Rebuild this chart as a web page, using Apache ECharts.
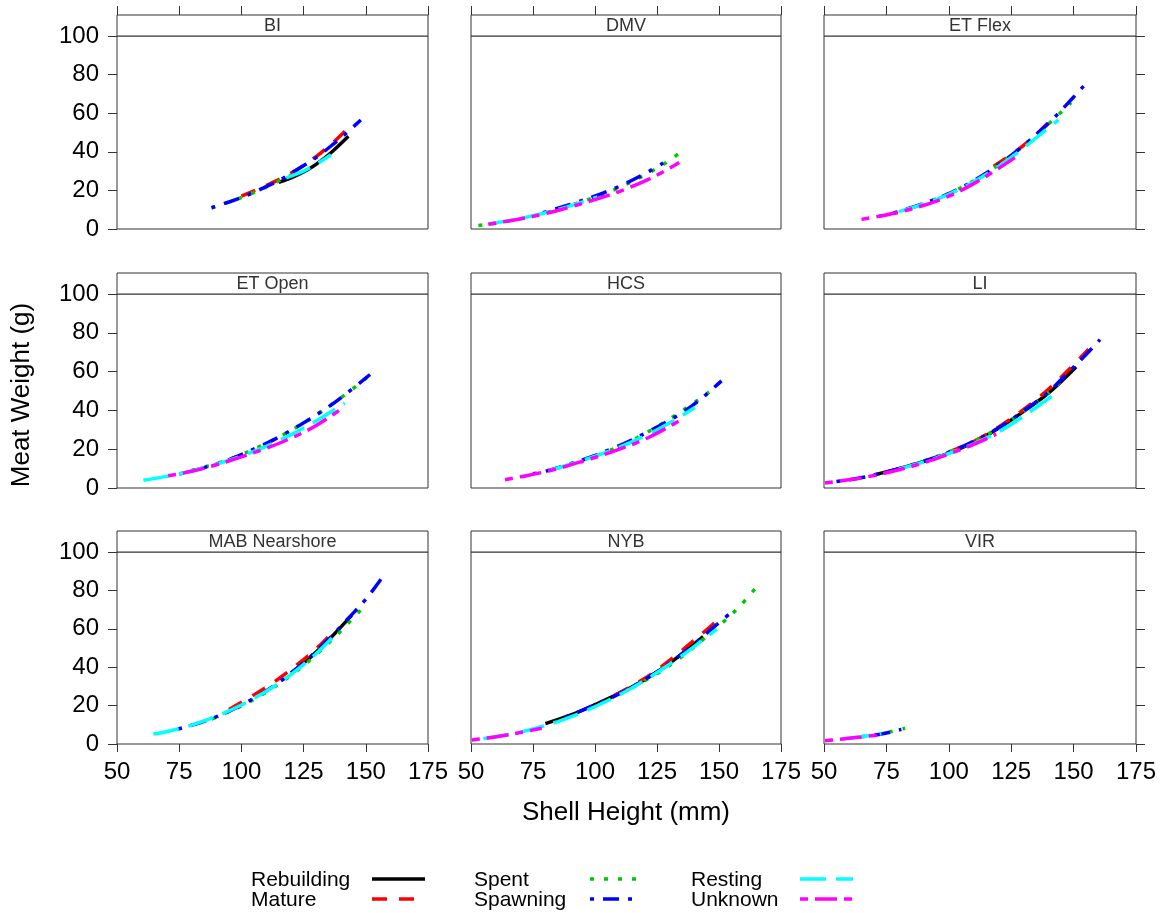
<!DOCTYPE html>
<html><head><meta charset="utf-8">
<script src="https://cdn.jsdelivr.net/npm/echarts/dist/echarts.min.js"></script>
<style>html,body{margin:0;padding:0;background:#fff}#c{width:1164px;height:913px}</style>
</head><body><div id="c"></div>
<script>
// ---------- data ----------
const stages = ['Rebuilding', 'Mature', 'Spent', 'Spawning', 'Resting', 'Unknown'];
const panelNames = ['BI', 'DMV', 'ET Flex', 'ET Open', 'HCS', 'LI', 'MAB Nearshore', 'NYB', 'VIR'];
const xTicks = [50, 75, 100, 125, 150, 175];
const yTicks = [0, 20, 40, 60, 80, 100];

// BI
const BI_Rebuilding = [[115,24.2],[120,26.5],[125,29.5],[130,33.5],[136,39.5],[143,48]];
const BI_Mature = [[100,17],[110,22.5],[120,29],[130,37.5],[137,45],[143,52.5]];
const BI_Spent = [[88,11],[95,14],[102,17.3],[110,21.8],[120,28]];
const BI_Spawning = [[88,11],[95,14],[102,17.3],[108,20.8],[115,25],[122,30.5],[130,37],[136,43],[142,49.5],[148,56.5]];
const BI_Resting = [[118,26.5],[125,30],[130,33.5],[136,38.5]];
const BI_Unknown = [];
// DMV
const DMV_Rebuilding = [];
const DMV_Mature = [];
const DMV_Spent = [[53,1.8],[58,2.6],[68,4.8],[79,8],[90,12.2],[101,17],[111,22.2],[122,29.3],[130,35.5],[136,41.5]];
const DMV_Spawning = [[79,8.4],[90,12.8],[101,17.5],[111,22.8],[122,30],[127.5,34.2]];
const DMV_Resting = [[57,2.6],[68,5],[79,8.1],[90,12],[101,16.6]];
const DMV_Unknown = [[57,2.5],[68,4.8],[79,7.7],[90,11.4],[101,15.6],[111,20],[122,26],[128,30],[134,34.5]];
// ET Flex
const ETFlex_Rebuilding = [];
const ETFlex_Mature = [[118,32.5],[125,38.5],[132,45.5],[140,55.3]];
const ETFlex_Spent = [[72,6.6],[80,9],[90,13.2],[100,18.3],[110,25],[120,33.3],[130,43.3],[140,54.5],[149,65.5]];
const ETFlex_Spawning = [[78,8.3],[90,13.2],[100,18.3],[110,25],[120,33.3],[130,43.3],[140,54.8],[147,64.2],[154,74]];
const ETFlex_Resting = [[80,9],[90,13],[100,18],[110,24.5],[120,32.5],[130,42],[138,50.5],[144,56.5]];
const ETFlex_Unknown = [[65,5],[72,6.6],[80,8.7],[90,12.3],[100,17],[110,23.5],[120,31.5],[126.5,37]];
// ET Open
const ETOpen_Rebuilding = [];
const ETOpen_Mature = [];
const ETOpen_Spent = [[80,9],[95,14.7],[110,23],[125,33.5],[140,46.5],[152,58.5]];
const ETOpen_Spawning = [[75,7.2],[85,10.5],[95,14.6],[107.5,21.5],[115,26.2],[123.6,32.5],[134.3,41.2],[142.3,48.8],[151.7,58.5]];
const ETOpen_Resting = [[60.6,4],[70,6],[80,8.8],[90,12.3],[100,16.5],[110,21.5],[120,27.5],[130,34.5],[141.6,43.8]];
const ETOpen_Unknown = [[70.6,6.3],[80,8.6],[90,12],[100,16],[110,20.5],[118,24.6],[129,31.4],[141.6,42]];
// HCS
const HCS_Rebuilding = [];
const HCS_Mature = [];
const HCS_Spent = [[90,12.5],[100,16.5],[110,21.5],[120,28],[130,35.5],[140,44],[146,49.5]];
const HCS_Spawning = [[75,7.3],[82,9.3],[95,14.5],[108.8,21.3],[122.2,29.5],[135.6,39.2],[143.6,46.9],[151,55.2]];
const HCS_Resting = [[82,9.2],[95,14.2],[108.8,20.5],[122,28],[132,35],[140.3,41.5]];
const HCS_Unknown = [[63.7,4.3],[70,5.8],[82,9],[95,13.8],[108.8,19.5],[122,26.3],[135.6,35.8]];
// LI
const LI_Rebuilding = [[70,6.7],[85,11.8],[100,18],[115,27],[130,39.5],[140,49],[151,62.4]];
const LI_Mature = [[100,18.5],[110,24],[120,31.5],[130,40.5],[140,51],[148,61],[156,71.5]];
const LI_Spent = [[90,14],[105,21],[120,31],[132,41.3],[140,49.3],[146,56.4]];
const LI_Spawning = [[55,3.3],[67,5.8],[80,10],[94,15.5],[107,22.3],[120,31],[134,43.5],[140,49.5],[147,58.5],[154,67.5],[160.6,76.5]];
const LI_Resting = [[80,9.8],[95,15.5],[110,22.8],[120,29],[127,34.5],[135,41.5],[142.5,48.5]];
const LI_Unknown = [[50.4,2.6],[60,4.2],[70,6.4],[80,9.4],[90,13],[100,17.5],[110,22.5],[119,27.8]];
// MAB Nearshore
const MAB_Rebuilding = [[120,37],[128,45.5],[136,55.5],[144.3,67]];
const MAB_Mature = [[95,18],[105,25.5],[115,34],[125,44],[132,52],[137.6,59.4]];
const MAB_Spent = [[88,13],[100,19.8],[110,27],[120,35.8],[130,46.5],[140,59],[149,71.2]];
const MAB_Spawning = [[74.6,7.8],[85,11.8],[95,17],[105,23.8],[115,32],[125,42.3],[135,54.5],[143,65.5],[150.4,76],[157,87.5]];
const MAB_Resting = [[64.6,5.2],[70,6.4],[80,9.8],[90,14.5],[100,20.3],[110,27.5],[120,36.3],[130,47],[137.6,56.8]];
const MAB_Unknown = [];
// NYB
const NYB_Rebuilding = [[80,10.6],[90,15],[100,20.5],[110,26.5],[120,33.5],[130,42],[137,49],[143.6,56]];
const NYB_Mature = [[108,25.5],[115,30.3],[122.2,36],[130,43.5],[135.6,49.3],[145,59.5],[149.1,64]];
const NYB_Spent = [[115,29.3],[125.5,37],[135,45.5],[145,56],[150.4,62],[158,71.2],[165.8,82.8]];
const NYB_Spawning = [[88,14],[100,20.3],[110,26.3],[120,33.5],[130,42],[140,52],[148,61],[155.8,69.5]];
const NYB_Resting = [[55,2.8],[65,4.9],[75,7.8],[85,11.7],[95,16.6],[105,22.5],[115,29.3],[125,37.2],[135,46],[142,52.8],[149.1,59.8]];
const NYB_Unknown = [[50.3,2.1],[55,2.9],[62,4.2],[70,6],[78.5,8.2]];
// VIR
const VIR_Rebuilding = [];
const VIR_Mature = [];
const VIR_Spent = [[76,6.2],[82.5,8.2]];
const VIR_Spawning = [[65,3.8],[72,5],[77,6.3],[81,7.6]];
const VIR_Resting = [[58,2.8],[65,3.8],[73,5.4]];
const VIR_Unknown = [[50.4,1.7],[55,2.3],[60,3],[65,3.7],[71.8,4.7]];

const panelData = [
  [BI_Rebuilding, BI_Mature, BI_Spent, BI_Spawning, BI_Resting, BI_Unknown],
  [DMV_Rebuilding, DMV_Mature, DMV_Spent, DMV_Spawning, DMV_Resting, DMV_Unknown],
  [ETFlex_Rebuilding, ETFlex_Mature, ETFlex_Spent, ETFlex_Spawning, ETFlex_Resting, ETFlex_Unknown],
  [ETOpen_Rebuilding, ETOpen_Mature, ETOpen_Spent, ETOpen_Spawning, ETOpen_Resting, ETOpen_Unknown],
  [HCS_Rebuilding, HCS_Mature, HCS_Spent, HCS_Spawning, HCS_Resting, HCS_Unknown],
  [LI_Rebuilding, LI_Mature, LI_Spent, LI_Spawning, LI_Resting, LI_Unknown],
  [MAB_Rebuilding, MAB_Mature, MAB_Spent, MAB_Spawning, MAB_Resting, MAB_Unknown],
  [NYB_Rebuilding, NYB_Mature, NYB_Spent, NYB_Spawning, NYB_Resting, NYB_Unknown],
  [VIR_Rebuilding, VIR_Mature, VIR_Spent, VIR_Spawning, VIR_Resting, VIR_Unknown]
];

// ---------- styles / layout ----------
const FONT = '"Liberation Sans", Arial, sans-serif';
const AXC = '#333333';
const LW = 3.5;
const stageStyle = [
  { color: '#000000', type: 'solid' },
  { color: '#FF0000', type: [15, 12] },
  { color: '#00C800', type: [4, 10] },
  { color: '#0000FF', type: [4, 9, 16, 9] },
  { color: '#00FFFF', type: [26, 10] },
  { color: '#FF00FF', type: [8, 7, 22, 7] }
];
const colLeft = [117, 471, 824], colWidth = [311, 310, 312];
const rowTop = [36, 294, 552], rowHeight = [193, 194, 192];
const stripH = 21;

const grids = [], xAxes = [], yAxes = [], series = [], graphics = [];
panelNames.forEach((p, i) => {
  const c = i % 3, r = Math.floor(i / 3);
  grids.push({ left: colLeft[c], top: rowTop[r], width: colWidth[c], height: rowHeight[r],
    show: true, borderColor: AXC, borderWidth: 1, backgroundColor: 'transparent' });
  const xi = xAxes.length;
  xAxes.push({ type: 'value', gridIndex: i, min: xTicks[0], max: xTicks[xTicks.length - 1], interval: 25,
    position: 'bottom', axisLine: { show: false }, splitLine: { show: false },
    axisTick: { show: r === 2, length: 8, lineStyle: { color: AXC } },
    axisLabel: { show: r === 2, fontSize: 24, color: '#000', margin: 16, fontFamily: FONT, showMinLabel: true, showMaxLabel: true, hideOverlap: false } });
  if (r === 0) {
    xAxes.push({ type: 'value', gridIndex: i, min: xTicks[0], max: xTicks[xTicks.length - 1], interval: 25,
      position: 'top', offset: stripH, axisLine: { show: false }, splitLine: { show: false },
      axisTick: { show: true, length: 9, lineStyle: { color: AXC } }, axisLabel: { show: false } });
  }
  yAxes.push({ type: 'value', gridIndex: i, min: yTicks[0], max: yTicks[yTicks.length - 1], interval: 20,
    position: c === 2 ? 'right' : 'left', axisLine: { show: false }, splitLine: { show: false },
    axisTick: { show: c !== 1, length: 9, lineStyle: { color: AXC } },
    axisLabel: { show: c === 0, fontSize: 24, color: '#000', margin: 18, fontFamily: FONT, showMinLabel: true, showMaxLabel: true } });
  stages.forEach((s, k) => {
    const d = panelData[i][k];
    if (!d.length) return;
    series.push({ type: 'line', name: s, xAxisIndex: xi, yAxisIndex: i, data: d,
      symbol: 'none', showSymbol: false, smooth: 0.35, silent: true,
      lineStyle: { color: stageStyle[k].color, width: LW, type: stageStyle[k].type, cap: 'butt' },
      itemStyle: { color: stageStyle[k].color }, z: 2 + k });
  });
  graphics.push({ type: 'rect', shape: { x: colLeft[c], y: rowTop[r] - stripH, width: colWidth[c], height: stripH },
    style: { fill: '#fff', stroke: AXC, lineWidth: 1 }, z: 10 });
  graphics.push({ type: 'text', x: colLeft[c] + colWidth[c] / 2, y: rowTop[r] - stripH / 2 + 1,
    style: { text: p, fontSize: 18, fontFamily: FONT, fill: '#333', align: 'center', verticalAlign: 'middle' }, z: 11 });
});
graphics.push({ type: 'text', x: 626, y: 813,
  style: { text: 'Shell Height (mm)', fontSize: 26, fontFamily: FONT, fill: '#000', align: 'center', verticalAlign: 'middle' } });
graphics.push({ type: 'text', x: 22, y: 395, rotation: Math.PI / 2,
  style: { text: 'Meat Weight (g)', fontSize: 26, fontFamily: FONT, fill: '#000', align: 'center', verticalAlign: 'middle' } });

// legend key (3 columns x 2 rows)
const legTextX = [251, 474, 691], legLineX = [[372, 425], [590, 640], [800, 853]], legRowY = [880, 900];
stages.forEach((s, k) => {
  const col = Math.floor(k / 2), row = k % 2;
  graphics.push({ type: 'text', x: legTextX[col], y: legRowY[row],
    style: { text: s, fontSize: 21, fontFamily: FONT, fill: '#000', align: 'left', verticalAlign: 'middle' } });
  const st = stageStyle[k];
  graphics.push({ type: 'line', shape: { x1: legLineX[col][0], y1: legRowY[row] - 1, x2: legLineX[col][1], y2: legRowY[row] - 1 },
    style: { stroke: st.color, lineWidth: LW, lineDash: st.type === 'solid' ? null : st.type, lineCap: 'butt' } });
});

const chart = echarts.init(document.getElementById('c'), null, { renderer: 'canvas' });
chart.setOption({
  animation: false,
  backgroundColor: '#fff',
  grid: grids, xAxis: xAxes, yAxis: yAxes, series: series,
  graphic: { elements: graphics }
});
</script></body></html>
